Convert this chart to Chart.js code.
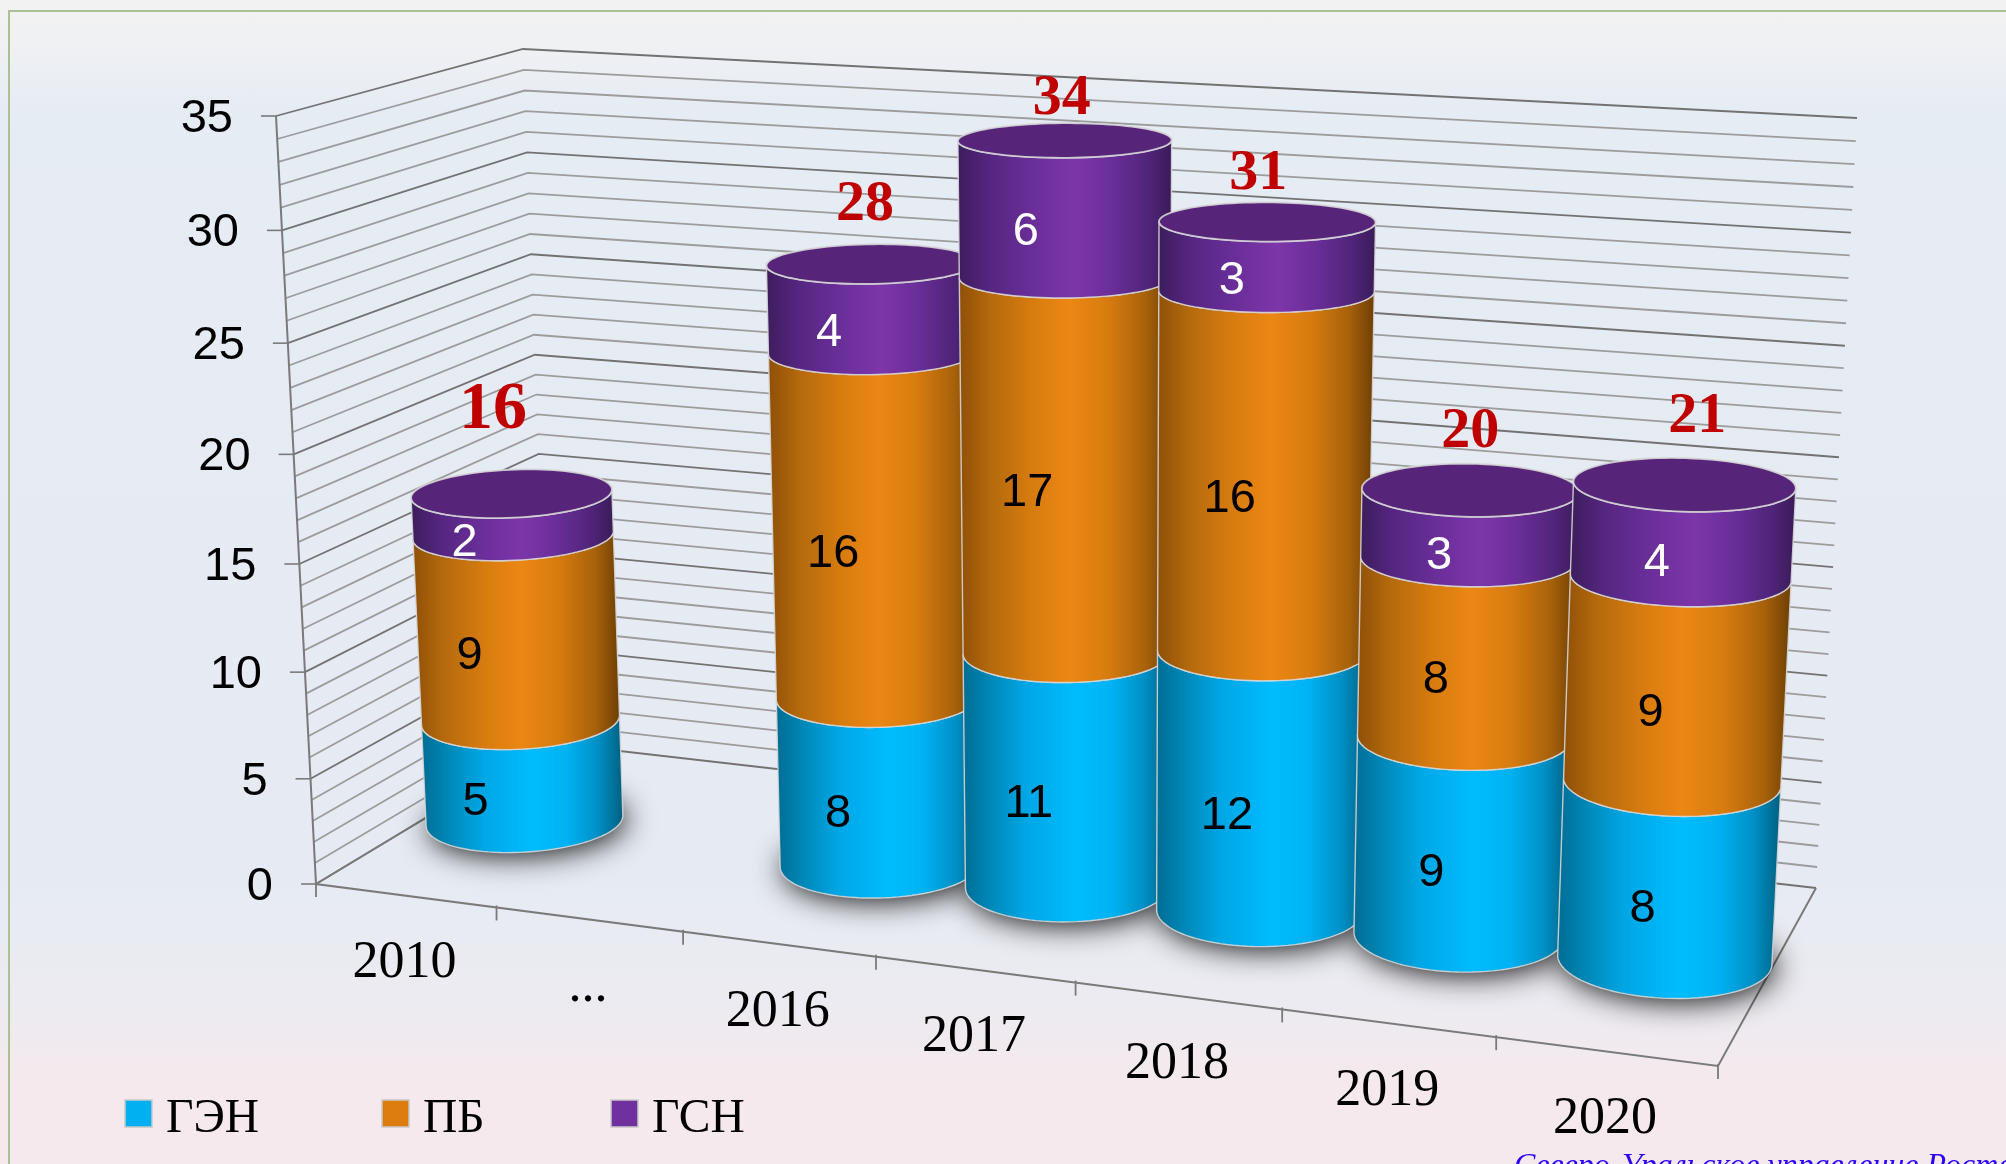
<!DOCTYPE html>
<html lang="ru">
<head>
<meta charset="utf-8">
<title>Chart</title>
<script src="https://cdn.jsdelivr.net/npm/chart.js@4"></script>
<style>
html,body{margin:0;padding:0;width:2006px;height:1164px;overflow:hidden;
background:linear-gradient(180deg,#f2f2f2 0px,#f0f1f3 40px,#e6ecf4 110px,#e6ebf3 880px,#ecebf1 1000px,#f5e9ed 1090px,#f5e9ed 1164px);}
#frame{position:absolute;left:8px;top:10px;width:2100px;height:1300px;border:2px solid #abc193;box-sizing:border-box;}
#wrap{position:absolute;left:0;top:0;width:2006px;height:1164px;}
#note{position:absolute;left:1514px;top:1146px;white-space:nowrap;font:italic 32px "Liberation Serif",serif;color:#2a00ff;}
</style>
</head>
<body>
<div id="frame"></div>
<div id="wrap"><canvas id="c" width="2006" height="1164"></canvas></div>
<div id="note">Северо-Уральское управление Ростехнадзора</div>
<script>
const categories = ['2010', '...', '2016', '2017', '2018', '2019', '2020'];
const seriesGEN = [5, null, 8, 11, 12, 9, 8];
const seriesPB = [9, null, 16, 17, 16, 8, 9];
const seriesGSN = [2, null, 4, 6, 3, 3, 4];
const totals = [16, null, 28, 34, 31, 20, 21];
const yMax = 35;
const yStep = 1;

// projection of the chart's (category, depth, value) space on the picture
const floorQuad = [[316, 884], [1718, 1066], [1816, 888], [550, 743]];
const ceilQuad = [[276, 116], [1758, 204], [1857, 118], [523, 49]];
const heightBow = 1.05;
function homography(q) {
  const [[x0, y0], [x1, y1], [x2, y2], [x3, y3]] = q;
  const dx1 = x1 - x2, dx2 = x3 - x2, sx = x0 - x1 + x2 - x3;
  const dy1 = y1 - y2, dy2 = y3 - y2, sy = y0 - y1 + y2 - y3;
  const den = dx1 * dy2 - dx2 * dy1;
  const g = (sx * dy2 - dx2 * sy) / den, h = (dx1 * sy - sx * dy1) / den;
  const a = x1 - x0 + g * x1, b = x3 - x0 + h * x3, d = y1 - y0 + g * y1, e = y3 - y0 + h * y3;
  return (u, w) => {
    const k = g * u + h * w + 1;
    return [(a * u + b * w + x0) / k, (d * u + e * w + y0) / k];
  };
}
const H0 = homography(floorQuad), H1 = homography(ceilQuad);
function project(u, w, v) {
  const t = v / (v + (yMax - v) * heightBow);
  const p = H0(u, w), q = H1(u, w);
  return [p[0] + (q[0] - p[0]) * t, p[1] + (q[1] - p[1]) * t];
}

const colorStops = {
  '#00B0F0': [[0, '#006d94'], [0.12, '#0085b4'], [0.3, '#00a6e4'], [0.55, '#00bcff'], [0.72, '#00b2f2'], [0.88, '#008fc4'], [1, '#005f80']],
  '#E36C0A': [[0, '#8f5008'], [0.15, '#b56a0d'], [0.35, '#d87c10'], [0.52, '#ec8713'], [0.7, '#d87c10'], [0.88, '#a8620b'], [1, '#6e3f05']],
  '#7030A0': [[0, '#3d1d5c'], [0.15, '#552681'], [0.35, '#6a2e99'], [0.55, '#7c36a9'], [0.72, '#6a2e99'], [0.9, '#4e2477'], [1, '#3a1b58']]
};
const capColor = '#56257a';
const edgeColor = 'rgba(214,214,214,0.9)';
const depthCenter = 0.5, depthRadius = 0.21;
const labelShiftU = 0.05, labelShiftW = -1.07;
const totalNudge = [[-19, 3], null, [-6, -1], [-3, 17], [-9, 11], [0, 0], [13, -9]];

function ellipsePts(uc, du, v) {
  const pts = [];
  for (let i = 0; i < 96; i++) {
    const th = i / 96 * Math.PI * 2;
    pts.push(project(uc + du * Math.cos(th), depthCenter + depthRadius * Math.sin(th), v));
  }
  return pts;
}
function frontArc(pts) {
  let a = 0, b = 0;
  pts.forEach((p, i) => { if (p[0] < pts[a][0]) a = i; if (p[0] > pts[b][0]) b = i; });
  const arc = [];
  for (let i = a; ; i = (i + 1) % pts.length) { arc.push(pts[i]); if (i === b) break; }
  return arc;
}
function poly(ctx, pts, close) {
  ctx.beginPath();
  pts.forEach((p, i) => i ? ctx.lineTo(p[0], p[1]) : ctx.moveTo(p[0], p[1]));
  if (close) ctx.closePath();
}
function line(ctx, a, b, color, width) {
  ctx.strokeStyle = color; ctx.lineWidth = width;
  ctx.beginPath(); ctx.moveTo(a[0], a[1]); ctx.lineTo(b[0], b[1]); ctx.stroke();
}

const scene3d = {
  id: 'scene3d',
  beforeDatasetsDraw() { return false; },
  afterDraw(chart) {
    const ctx = chart.ctx, xs = chart.scales.x, ys = chart.scales.y;
    const n = chart.data.labels.length;
    const uOf = px => (px - xs.left) / xs.width;
    ctx.save();
    ctx.lineCap = 'butt';
    // walls
    ys.ticks.forEach(t => {
      const major = t.value % 5 === 0;
      const col = major ? '#727272' : '#9c9c9c';
      const pts = [project(0, 0, t.value), project(0, 1, t.value), project(1, 1, t.value)];
      ctx.strokeStyle = col; ctx.lineWidth = 1.8;
      poly(ctx, pts); ctx.stroke();
      if (major) {
        const p = pts[0];
        line(ctx, [p[0] - 15, p[1]], p, '#7a7a7a', 1.6);
        ctx.fillStyle = '#000'; ctx.font = '47px "Liberation Sans",Arial,sans-serif';
        ctx.textAlign = 'right'; ctx.textBaseline = 'middle';
        ctx.fillText(String(t.label), p[0] - 43, p[1] + 3);
      }
    });
    ctx.strokeStyle = '#7a7a7a'; ctx.lineWidth = 2;
    poly(ctx, [project(0, 0, yMax), project(0, 0, 0), project(1, 0, 0), project(1, 1, 0)]); ctx.stroke();
    poly(ctx, [project(0, 0, 0), project(0, 1, 0)]); ctx.stroke();
    // category ticks and labels
    for (let i = 0; i <= n; i++) {
      const p = project(i / n, 0, 0);
      line(ctx, [p[0], p[1] - (i ? 2 : 0)], [p[0], p[1] + 13], '#7a7a7a', 1.8);
    }
    ctx.font = '52px "Liberation Serif",serif'; ctx.fillStyle = '#000';
    ctx.textAlign = 'center'; ctx.textBaseline = 'middle';
    chart.data.labels.forEach((lab, i) => {
      const p = project(uOf(xs.getPixelForTick(i)), 0, 0);
      ctx.fillText(lab, p[0] - 1, p[1] + 68);
    });
    // bar geometry from the chart's own bar elements
    const bars = chart.data.datasets.map((ds, di) => chart.getDatasetMeta(di).data.map((el, i) => {
      if (ds.data[i] == null) return null;
      return { uc: uOf(el.x), du: el.width / 2 / xs.width, v0: ys.getValueForPixel(el.base), v1: ys.getValueForPixel(el.y) };
    }));
    // contact shadows
    bars[0].forEach(b => {
      if (!b) return;
      ctx.save();
      ctx.shadowColor = 'rgba(0,0,0,0.95)'; ctx.shadowBlur = 30; ctx.shadowOffsetX = 3; ctx.shadowOffsetY = 3;
      ctx.fillStyle = '#666';
      poly(ctx, ellipsePts(b.uc, b.du, 0), true); ctx.fill();
      ctx.restore();
    });
    // cylinders, left to right
    for (let i = 0; i < n; i++) {
      let top = null;
      chart.data.datasets.forEach((ds, di) => {
        const b = bars[di][i];
        if (!b) return;
        top = b;
        const low = frontArc(ellipsePts(b.uc, b.du, b.v0));
        const up = frontArc(ellipsePts(b.uc, b.du, b.v1));
        const outline = low.concat(up.slice().reverse());
        const xl = Math.min(low[0][0], up[0][0]), xr = Math.max(low[low.length - 1][0], up[up.length - 1][0]);
        const g = ctx.createLinearGradient(xl, 0, xr, 0);
        colorStops[ds.backgroundColor].forEach(s => g.addColorStop(s[0], s[1]));
        ctx.fillStyle = g;
        poly(ctx, outline, true); ctx.fill();
        ctx.strokeStyle = edgeColor; ctx.lineWidth = 1.4;
        poly(ctx, outline, true); ctx.stroke();
      });
      if (top) {
        const cap = ellipsePts(top.uc, top.du, top.v1);
        ctx.fillStyle = capColor;
        poly(ctx, cap, true); ctx.fill();
        ctx.strokeStyle = edgeColor; ctx.lineWidth = 1.8;
        poly(ctx, cap, true); ctx.stroke();
      }
    }
    // value labels
    ctx.font = '47px "Liberation Sans",Arial,sans-serif';
    ctx.textAlign = 'center'; ctx.textBaseline = 'middle';
    chart.data.datasets.forEach((ds, di) => {
      bars[di].forEach((b, i) => {
        if (!b) return;
        const p = project(b.uc + labelShiftU * b.du, depthCenter + labelShiftW * depthRadius, (b.v0 + b.v1) / 2);
        ctx.fillStyle = ds.labelColor;
        ctx.fillText(String(ds.data[i]), p[0] + 1 - 7 * b.uc, p[1] + (di === 2 ? 3 : 0));
      });
    });
    // totals
    ctx.fillStyle = '#c00000';
    totals.forEach((tot, i) => {
      if (tot == null) return;
      const b = bars[2][i];
      const p = project(b.uc, depthCenter, tot);
      const big = tot === 16;
      ctx.font = 'bold ' + (big ? 68 : 58) + 'px "Liberation Serif",serif';
      ctx.fillText(String(tot), p[0] + totalNudge[i][0], p[1] - (big ? 86 : 58) + totalNudge[i][1]);
    });
    // legend
    const legendX = [125, 382, 611];
    chart.data.datasets.forEach((ds, di) => {
      const x = legendX[di];
      ctx.fillStyle = ds.backgroundColor === '#00B0F0' ? '#00b0f0' : ds.backgroundColor === '#E36C0A' ? '#dd7c0f' : '#7030a0';
      ctx.fillRect(x, 1100, 27, 27);
      ctx.strokeStyle = '#c9c9c9'; ctx.lineWidth = 1.5; ctx.strokeRect(x, 1100, 27, 27);
      ctx.fillStyle = '#000'; ctx.font = '47.5px "Liberation Serif",serif';
      ctx.textAlign = 'left'; ctx.textBaseline = 'middle';
      ctx.fillText(ds.label, x + 41, 1120);
    });
    ctx.restore();
  }
};

new Chart(document.getElementById('c'), {
  type: 'bar',
  data: {
    labels: categories,
    datasets: [
      { label: 'ГЭН', data: seriesGEN, backgroundColor: '#00B0F0', labelColor: '#000' },
      { label: 'ПБ', data: seriesPB, backgroundColor: '#E36C0A', labelColor: '#000' },
      { label: 'ГСН', data: seriesGSN, backgroundColor: '#7030A0', labelColor: '#fff' }
    ]
  },
  options: {
    responsive: false,
    animation: false,
    layout: { padding: 0 },
    categoryPercentage: 1,
    barPercentage: 1.0,
    plugins: { legend: { display: false }, tooltip: { enabled: false }, title: { display: false } },
    scales: {
      x: { stacked: true, display: false, offset: true },
      y: { stacked: true, display: false, min: 0, max: yMax, ticks: { stepSize: yStep, autoSkip: false } }
    }
  },
  plugins: [scene3d]
});
</script>
</body>
</html>
